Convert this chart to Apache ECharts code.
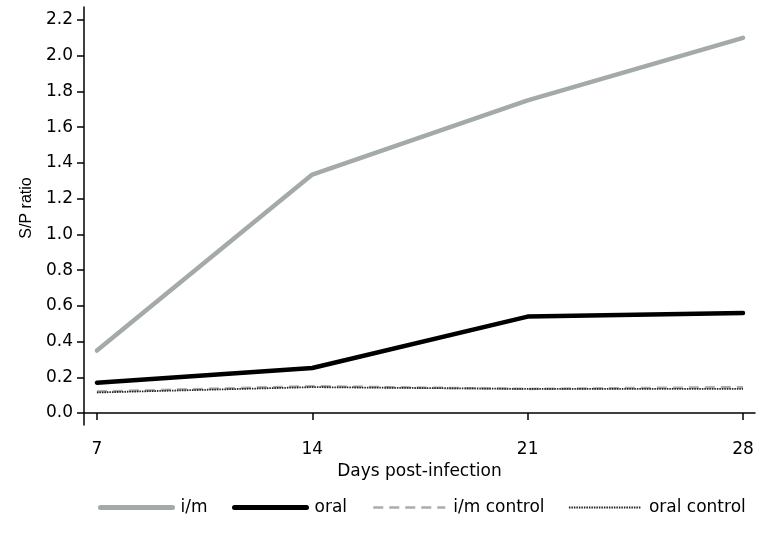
<!DOCTYPE html>
<html>
<head>
<meta charset="utf-8">
<script src="https://cdn.jsdelivr.net/npm/echarts@6/dist/echarts.min.js"></script>
<style>html,body{margin:0;padding:0;background:#fff;}#c{width:764px;height:555px;}</style>
</head>
<body>
<div id="c"></div>
<script>
var days = [7, 14, 21, 28];
var imValues = [0.35, 1.335, 1.75, 2.10];
var oralValues = [0.17, 0.252, 0.54, 0.56];
var imControlValues = [0.12, 0.15, 0.135, 0.145];
var oralControlValues = [0.115, 0.145, 0.135, 0.135];
var yTicks = [0, 0.2, 0.4, 0.6, 0.8, 1.0, 1.2, 1.4, 1.6, 1.8, 2.0, 2.2];
var xTicks = [7, 14, 21, 28];
var seriesNames = ['i/m', 'oral', 'i/m control', 'oral control'];

function pairs(vals) { return days.map(function (d, i) { return [d, vals[i]]; }); }

var FONT = 'DejaVu Sans, sans-serif';
var legendLefts = [98, 232, 372, 568];
var legendLineWidths = [5, 5, 2.5, 1.8];
var legends = seriesNames.map(function (n, i) {
  return {
    left: legendLefts[i], top: 499, itemWidth: 72, itemHeight: 16, padding: 0,
    itemStyle: { opacity: 0 },
    lineStyle: { width: legendLineWidths[i] },
    textStyle: { color: '#000', fontSize: 17, fontFamily: FONT, padding: [0, 0, 0, 3] },
    data: [n]
  };
});

var chart = echarts.init(document.getElementById('c'));
chart.setOption({
  animation: false,
  backgroundColor: '#fff',
  grid: { left: 84, right: 9, top: 7, bottom: 130, containLabel: false },
  xAxis: {
    type: 'value', min: 6.58, max: 28.39,
    name: 'Days post-infection', nameLocation: 'middle', nameGap: 33,
    nameTextStyle: { color: '#000', fontSize: 17, fontFamily: FONT },
    axisLine: { show: true, lineStyle: { color: '#000', width: 1.5 } },
    axisTick: { show: true, length: 7, customValues: xTicks, lineStyle: { color: '#000', width: 1.5 } },
    axisLabel: { customValues: xTicks, margin: 16, color: '#000', fontSize: 17, fontFamily: FONT },
    splitLine: { show: false }
  },
  yAxis: {
    type: 'value', min: -0.067, max: 2.273,
    name: 'S/P ratio', nameLocation: 'middle', nameGap: 47,
    nameTextStyle: { color: '#000', fontSize: 16, fontFamily: 'Liberation Sans, Arial, sans-serif', padding: [0, 0, 0, 16] },
    axisLine: { show: true, lineStyle: { color: '#000', width: 1.5 } },
    axisTick: { show: true, length: 7, customValues: yTicks, lineStyle: { color: '#000', width: 1.5 } },
    axisLabel: { customValues: yTicks, margin: 11, color: '#000', fontSize: 17, fontFamily: FONT,
      formatter: function (v) { return v.toFixed(1); } },
    splitLine: { show: false }
  },
  legend: legends,
  series: [
    { name: seriesNames[0], type: 'line', data: pairs(imValues), symbol: 'none',
      lineStyle: { color: '#a4aba7', width: 4.5, cap: 'round' }, itemStyle: { color: '#a4aba7' } },
    { name: seriesNames[1], type: 'line', data: pairs(oralValues), symbol: 'none',
      lineStyle: { color: '#000', width: 4.5, cap: 'round' }, itemStyle: { color: '#000' } },
    { name: seriesNames[2], type: 'line', data: pairs(imControlValues), symbol: 'none',
      lineStyle: { color: '#a8aeab', width: 2.5, type: [10, 6] }, itemStyle: { color: '#a8aeab' } },
    { name: seriesNames[3], type: 'line', data: pairs(oralControlValues), symbol: 'none',
      lineStyle: { color: '#222', width: 1.8, type: [1.5, 1] }, itemStyle: { color: '#222' } }
  ]
});
</script>
</body>
</html>
